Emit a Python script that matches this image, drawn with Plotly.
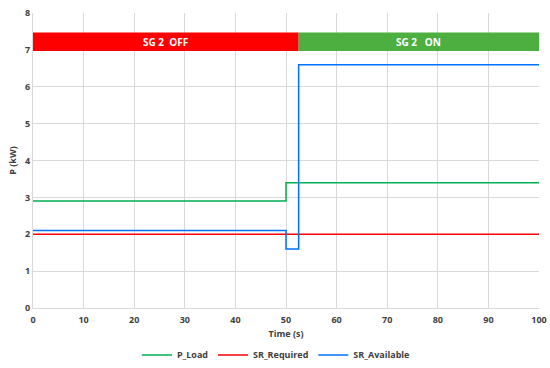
import plotly.graph_objects as go

# Data
time_load = [0, 50, 50, 100]
p_load = [2.9, 2.9, 3.4, 3.4]
time_req = [0, 100]
sr_required = [2.0, 2.0]
time_avail = [0, 50, 50, 52.5, 52.5, 100]
sr_available = [2.1, 2.1, 1.6, 1.6, 6.6, 6.6]

state_labels = ["SG 2  OFF", "SG 2   ON"]
state_start = [0, 52.5]
state_end = [52.5, 100]
state_colors = ["#ff0000", "#4caf3f"]
band_low, band_high = 6.97, 7.47

x_ticks = [0, 10, 20, 30, 40, 50, 60, 70, 80, 90, 100]
y_ticks = [0, 1, 2, 3, 4, 5, 6, 7, 8]

FONT = "Open Sans"
tick_font = dict(family=FONT, size=9, color="#404040", weight="bold")

fig = go.Figure()
fig.add_trace(go.Scatter(x=time_load, y=p_load, mode="lines", name="P_Load",
                         line=dict(color="#00b050", width=1.5)))
fig.add_trace(go.Scatter(x=time_req, y=sr_required, mode="lines", name="SR_Required",
                         line=dict(color="#ff0000", width=1.5)))
fig.add_trace(go.Scatter(x=time_avail, y=sr_available, mode="lines", name="SR_Available",
                         line=dict(color="#0070ff", width=1.5)))

for lbl, s, e, c in zip(state_labels, state_start, state_end, state_colors):
    fig.add_shape(type="rect", xref="x", yref="y", x0=s, x1=e, y0=band_low, y1=band_high,
                  fillcolor=c, line=dict(width=0), layer="above")
    fig.add_annotation(x=(s + e) / 2, y=(band_low + band_high) / 2, xref="x", yref="y",
                       text=lbl.replace(" ", "&nbsp;"), showarrow=False,
                       font=dict(family=FONT, size=10, color="white", weight="bold"))

fig.update_layout(
    width=550, height=368,
    margin=dict(l=33, r=11, t=13, b=60, autoexpand=False),
    paper_bgcolor="white", plot_bgcolor="white",
    showlegend=True,
    legend=dict(orientation="h", x=0.48, xanchor="center", y=-0.159, yanchor="middle",
                font=dict(family=FONT, size=9, color="#404040", weight="bold"),
                itemwidth=30, tracegroupgap=0),
    xaxis=dict(range=[0, 100], tickvals=x_ticks, showgrid=True, gridcolor="#d9d9d9",
               gridwidth=1, zeroline=False, showline=True, linecolor="#d9d9d9",
               tickfont=tick_font, ticks="", automargin=False, ticklabelstandoff=3,
               title=dict(text="Time (s)", standoff=5,
                          font=dict(family=FONT, size=9, color="#404040", weight="bold"))),
    yaxis=dict(range=[0, 8], tickvals=y_ticks, showgrid=True, gridcolor="#d9d9d9",
               gridwidth=1, zeroline=False, showline=True, linecolor="#d9d9d9",
               tickfont=tick_font, ticks="", automargin=False,
               title=dict(text="P (kW)", standoff=6,
                          font=dict(family=FONT, size=9, color="#404040", weight="bold"))),
)

fig.write_html("out.html", config={"displayModeBar": False},
               post_script="document.body.style.margin='0';")
